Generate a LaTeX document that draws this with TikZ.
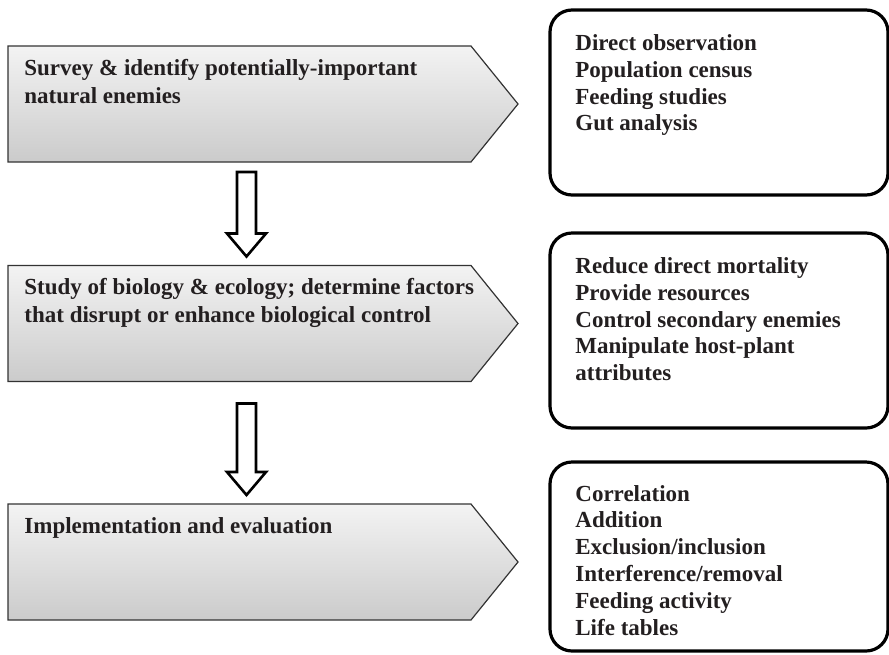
\documentclass[tikz,border=0pt]{standalone}
\usepackage{fontspec}
\setmainfont{Liberation Serif}
\usetikzlibrary{calc}
\definecolor{txt}{HTML}{231F20}
\definecolor{chtop}{HTML}{F3F3F3}
\definecolor{chbot}{HTML}{CBCBCB}
\def\pxu{0.5pt}
\begin{document}
\begin{tikzpicture}[x=0.5pt,y=-0.5pt,
  chev/.style={draw=none, minimum width=463*\pxu, minimum height=116*\pxu, inner sep=0pt, outer sep=0pt},
  chevline/.style={draw=black!80, line width=0.6pt, top color=chtop, bottom color=chbot},
  rbox/.style={draw=black, line width=1.6pt, rounded corners=11pt, inner sep=0pt, outer sep=0pt},
  chevtext/.style={anchor=base west, inner sep=0pt, text=txt, font=\bfseries\fontsize{11.5pt}{14pt}\selectfont},
  boxtext/.style={anchor=base west, inner sep=0pt, text=txt, font=\bfseries\fontsize{11.5pt}{13.4pt}\selectfont},
  blockarr/.style={draw=black, line width=1.3pt, fill=white, line join=miter}
]
\useasboundingbox (0,0) rectangle (889,654);

% chevron frames (invisible rectangular parts)
\node[chev] (c1) at (239.5,104) {};
\node[chev] (c2) at (239.5,323.5) {};
\node[chev] (c3) at (239.5,562) {};

\foreach \c in {c1,c2,c3}{
  \draw[chevline] (\c.north west) -- (\c.north east) -- ($(\c.east)+(47,0)$) -- (\c.south east) -- (\c.south west) -- cycle;
}

\node[chevtext] (t1) at ($(c1.north west)+(16,29)$) {\parbox[t]{250pt}{\raggedright Survey \& identify potentially-important\\natural enemies}};
\node[chevtext] (t2) at ($(c2.north west)+(16,29)$) {\parbox[t]{250pt}{\raggedright Study of biology \& ecology; determine factors\\that disrupt or enhance biological control}};
\node[chevtext] (t3) at ($(c3.north west)+(16,29)$) {\parbox[t]{250pt}{\raggedright Implementation and evaluation}};

% rounded boxes
\node[rbox, minimum width=338*\pxu, minimum height=185*\pxu] (b1) at (719,102.5) {};
\node[rbox, minimum width=338*\pxu, minimum height=195*\pxu] (b2) at (719,330.5) {};
\node[rbox, minimum width=338*\pxu, minimum height=189*\pxu] (b3) at (719,556.5) {};

\node[boxtext] (l1) at ($(b1.north west)+(25,40.5)$) {\parbox[t]{160pt}{\raggedright Direct observation\\Population census\\Feeding studies\\Gut analysis}};
\node[boxtext] (l2) at ($(b2.north west)+(25,40.5)$) {\parbox[t]{160pt}{\raggedright Reduce direct mortality\\Provide resources\\Control secondary enemies\\Manipulate host-plant\\attributes}};
\node[boxtext] (l3) at ($(b3.north west)+(25,39)$) {\parbox[t]{160pt}{\raggedright Correlation\\Addition\\Exclusion/inclusion\\Interference/removal\\Feeding activity\\Life tables}};

% hollow block arrows between chevrons
\coordinate (a1s) at ($(c1.south west)+(238.5,10)$);
\coordinate (a1e) at ($(c2.north west)+(238.5,-9)$);
\coordinate (a2s) at ($(c2.south west)+(238.5,22)$);
\coordinate (a2e) at ($(c3.north west)+(238.5,-9)$);
\foreach \s/\e in {a1s/a1e,a2s/a2e}{
  \draw[blockarr] ($(\s)+(-9.5,0)$) -- ($(\e)+(-9.5,-23)$) -- ($(\e)+(-19.5,-23)$) -- (\e)
    -- ($(\e)+(19.5,-23)$) -- ($(\e)+(9.5,-23)$) -- ($(\s)+(9.5,0)$) -- cycle;
}
\end{tikzpicture}
\end{document}
